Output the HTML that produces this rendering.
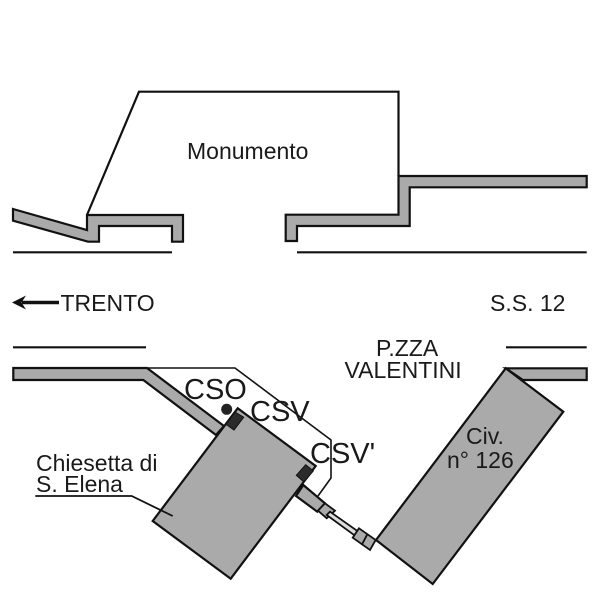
<!DOCTYPE html>
<html>
<head>
<meta charset="utf-8">
<style>
html,body{margin:0;padding:0;background:#fff;width:600px;height:600px;overflow:hidden}
svg{display:block}
text{font-family:"Liberation Sans",sans-serif;fill:#1a1a1a}
</style>
</head>
<body>
<svg width="600" height="600" viewBox="0 0 600 600" xmlns="http://www.w3.org/2000/svg">
<rect width="600" height="600" fill="#fff"/>
<g stroke="#111" stroke-width="2.2" fill="none" stroke-linejoin="miter">
  <polyline points="87,215 139,91.7 398.5,91.7 398.5,176"/>
  <polygon fill="#aaa" points="13,209 87,230 87,215 183,215 183,241.7 172,241.7 172,226 99,226 99,241.7 88,241.7 13,220.7"/>
  <polygon fill="#aaa" points="285.7,214.7 398.5,214.7 398.5,176 586.7,176 586.7,187.3 409.7,187.3 409.7,226 297,226 297,241 285.7,241"/>
  <line x1="13" y1="252.3" x2="172" y2="252.3"/>
  <line x1="297" y1="252.3" x2="586.7" y2="252.3"/>
  <line x1="13" y1="347.3" x2="146" y2="347.3"/>
  <line x1="506" y1="347.3" x2="586.7" y2="347.3"/>
  <polyline stroke-width="1.6" points="147,368 235,368 331,440 331,478 318,496"/>
  <polygon fill="#aaa" points="13.3,368 147,368 224,426 216,435 143.3,380 13.3,380"/>
  <polygon fill="#aaa" points="505.7,368.3 586.7,368.3 586.7,380 523,380"/>
  <polygon fill="#aaa" points="303.3,485 325,503.3 317.3,511.7 296,496"/>
  <polygon fill="#aaa" stroke-width="1.8" points="325,503.3 335,510.7 326.7,518.3 318,510.7"/>
  <polygon fill="#ddd" stroke-width="1.8" points="330,511.7 358.3,531.7 355,535.7 326.7,515"/>
  <polygon fill="#aaa" stroke-width="1.8" points="359,528.3 375.7,540 370,550 352.7,537.7"/>
  <line stroke-width="1.8" x1="367.3" y1="534.3" x2="361.7" y2="545"/>
  <polygon fill="#aaa" points="237.7,408.3 315.7,466 230.7,578.7 152.7,521"/>
  <polygon fill="#aaa" points="505.7,368.3 563.3,411.7 432.7,584 376,540"/>
  <polygon fill="#2b2b2b" stroke-width="1" points="235,412 243.7,417.3 234,430 226,424.3"/>
  <polygon fill="#2b2b2b" stroke-width="1" points="305.7,464.7 313.3,471 304,482 296.3,475.3"/>
  <polyline stroke-width="1.8" points="35.3,496 131.7,496 172.7,516"/>
  <line stroke-width="3.4" x1="22" y1="302.5" x2="59" y2="302.5"/>
</g>
<circle cx="226.7" cy="409.3" r="5.5" fill="#222"/>
<polygon fill="#111" points="12,302.5 26,295.5 21.5,302.5 26,309.5"/>
<g font-size="23">
  <text x="187" y="159">Monumento</text>
  <text x="60.5" y="311">TRENTO</text>
  <text x="490" y="311">S.S. 12</text>
  <text x="376" y="356">P.ZZA</text>
  <text x="344.5" y="378">VALENTINI</text>
  <text x="466" y="444">Civ.</text>
  <text x="447" y="468">n° 126</text>
  <text x="36" y="471">Chiesetta di</text>
  <text x="36" y="492">S. Elena</text>
</g>
<g font-size="29">
  <text x="184" y="399">CSO</text>
  <text x="250" y="421">CSV</text>
  <text x="310" y="463">CSV'</text>
</g>
</svg>
</body>
</html>
